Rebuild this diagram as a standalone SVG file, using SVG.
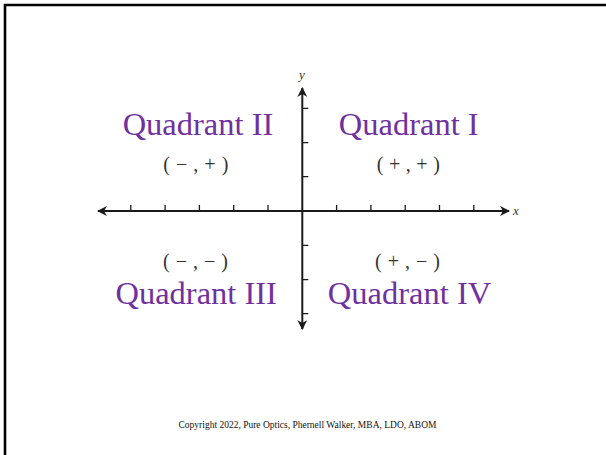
<svg xmlns="http://www.w3.org/2000/svg" width="606" height="455" viewBox="0 0 606 455">
<style>
.q{font-family:"Liberation Serif",serif;font-size:32.5px;fill:#7030A0;text-anchor:middle}
.s{font-family:"Liberation Serif",serif;font-size:20px;fill:#333;text-anchor:middle}
.ax{stroke:#1a1a1a;stroke-width:2;fill:none}
.tk{stroke:#1a1a1a;stroke-width:1.3;fill:none}
.lb{font-family:"Liberation Serif",serif;font-style:italic;font-size:13px;fill:#333}
.cp{font-family:"Liberation Serif",serif;font-size:10.5px;fill:#111;text-anchor:middle}
</style>
<defs>
<marker id="ah" viewBox="0 0 10 10" refX="9" refY="5" markerWidth="5" markerHeight="5" markerUnits="strokeWidth" orient="auto-start-reverse">
<path d="M0,0 L10,5 L0,10 L3,5 Z" fill="#1a1a1a"/>
</marker>
</defs>
<rect width="606" height="455" fill="#fff"/>
<path d="M5,455 V5 H606" fill="none" stroke="#000" stroke-width="2.6"/>
<g id="connectors">
<line class="ax" x1="98" y1="211" x2="509" y2="211" marker-start="url(#ah)" marker-end="url(#ah)"/>
<line class="ax" x1="302.3" y1="329" x2="302.3" y2="88" marker-start="url(#ah)" marker-end="url(#ah)"/>
<path class="tk" d="M130.8,211V205 M165.1,211V205 M199.4,211V205 M233.7,211V205 M268,211V205 M336.6,211V205 M370.9,211V205 M405.2,211V205 M439.5,211V205 M473.8,211V205"/>
<path class="tk" d="M302.3,108.3H308.3 M302.3,142.6H308.3 M302.3,176.7H308.3 M302.3,245.3H308.3 M302.3,279.6H308.3 M302.3,313.6H308.3"/>
<text class="lb" x="513" y="215">x</text>
<text class="lb" x="299" y="79">y</text>
</g>
<g id="q1">
<text class="q" x="408.7" y="135">Quadrant I</text>
<text class="s" x="408.3" y="170.5" textLength="63" lengthAdjust="spacing">( + , + )</text>
</g>
<g id="q2">
<text class="q" x="198" y="135">Quadrant II</text>
<text class="s" x="195.8" y="170.5" textLength="65" lengthAdjust="spacing">( − , + )</text>
</g>
<g id="q3">
<text class="s" x="195.5" y="267.5" textLength="65" lengthAdjust="spacing">( − , − )</text>
<text class="q" x="196.2" y="304">Quadrant III</text>
</g>
<g id="q4">
<text class="s" x="407.5" y="267.5" textLength="65" lengthAdjust="spacing">( + , − )</text>
<text class="q" x="409.5" y="304">Quadrant IV</text>
</g>
<text class="cp" x="307.5" y="428" textLength="258" lengthAdjust="spacingAndGlyphs">Copyright 2022, Pure Optics, Phernell Walker, MBA, LDO, ABOM</text>
</svg>
